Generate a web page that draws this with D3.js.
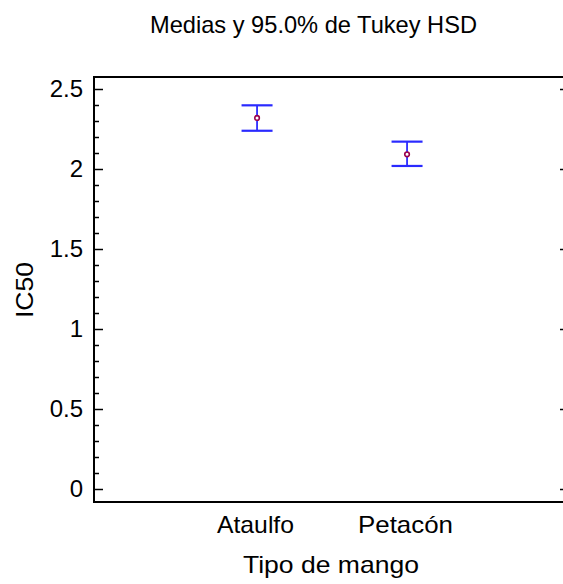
<!DOCTYPE html>
<html><head><meta charset="utf-8">
<script src="https://cdn.jsdelivr.net/npm/d3@7"></script>
<style>body{margin:0;background:#fff}svg{display:block}text{font-family:"Liberation Sans",Arial,sans-serif;fill:#000}</style>
</head><body>
<svg id="c" width="563" height="584"></svg>
<script>
const categories = ["Ataulfo", "Petacón"];
const means = [2.319, 2.092];
const lower = [2.239, 2.019];
const upper = [2.398, 2.171];
const yMajorTicks = [0, 0.5, 1, 1.5, 2, 2.5];
const title = "Medias y 95.0% de Tukey HSD";
const xTitle = "Tipo de mango";
const yTitle = "IC50";

const svg = d3.select("#c");
const L = 94, R = 563, T = 77, B = 502;
const y = d3.scaleLinear().domain([0, 2.5]).range([489, 89]);
const x = d3.scaleLinear().domain([-0.087, 3.033]).range([L, 562]);
const fs = 24;

// frame
svg.append("path").attr("d", `M${R},${T}H${L}V${B}H${R}`).attr("fill","none").attr("stroke","#000").attr("stroke-width",2);

// minor ticks
const minor = d3.range(0, 2.51, 0.1).map(v => +v.toFixed(1));
svg.append("g").selectAll("line").data(minor).join("line")
  .attr("x1", L).attr("x2", d => yMajorTicks.some(m => Math.abs(m-d)<1e-6) ? L+9 : L+5)
  .attr("y1", d => Math.round(y(d))+0.5).attr("y2", d => Math.round(y(d))+0.5)
  .attr("stroke","#000").attr("stroke-width",1.5);
// right ticks
svg.append("g").selectAll("line").data(yMajorTicks).join("line")
  .attr("x1", 560).attr("x2", 563)
  .attr("y1", d => Math.round(y(d))+0.5).attr("y2", d => Math.round(y(d))+0.5)
  .attr("stroke","#000").attr("stroke-width",1.5);
// tick labels
svg.append("g").selectAll("text").data(yMajorTicks).join("text")
  .attr("x", 83).attr("y", d => y(d)).attr("dy","0.35em").attr("text-anchor","end")
  .attr("font-size", fs).text(d => d);

// category labels
const catW = [77, 95], catC = [255.5, 405.5];
svg.append("g").selectAll("text").data(categories).join("text")
  .attr("x", (d,i) => catC[i] - catW[i]/2).attr("y", 533)
  .attr("textLength", (d,i) => catW[i]).attr("lengthAdjust","spacingAndGlyphs")
  .attr("font-size", fs).text(d => d);

// titles
svg.append("text").attr("x", 150).attr("y", 33).attr("textLength", 327).attr("lengthAdjust","spacingAndGlyphs").attr("font-size", fs).text(title);
svg.append("text").attr("x", 243).attr("y", 573).attr("textLength", 176).attr("lengthAdjust","spacingAndGlyphs").attr("font-size", fs).text(xTitle);
svg.append("text").attr("transform", `translate(33,318) rotate(-90)`).attr("textLength", 56).attr("lengthAdjust","spacingAndGlyphs").attr("font-size", fs).text(yTitle);

// error bars
const g = svg.append("g");
categories.forEach((c, i) => {
  const cx = x(i+1);
  g.append("line").attr("x1", cx).attr("x2", cx).attr("y1", y(upper[i])).attr("y2", y(lower[i])).attr("stroke","#0000ff").attr("stroke-width",1.5);
  [upper[i], lower[i]].forEach(v => {
    g.append("line").attr("x1", cx-15.5).attr("x2", cx+15.5).attr("y1", y(v)).attr("y2", y(v)).attr("stroke","#2a2aff").attr("stroke-width",2.2);
  });
  g.append("circle").attr("cx", cx).attr("cy", y(means[i])).attr("r", 2.3).attr("fill","#fff").attr("stroke","#99004d").attr("stroke-width",1.6);
});
</script>
</body></html>
